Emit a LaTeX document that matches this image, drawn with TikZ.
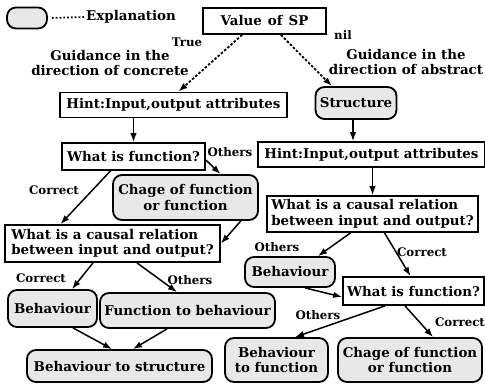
\documentclass[tikz,border=0pt]{standalone}
\usepackage{fontspec}
\setmainfont{DejaVu Serif}
\usetikzlibrary{arrows.meta}
\newcommand\mainfnt{\fontsize{13.4}{15.5}\selectfont\bfseries}
\newcommand\lblfnt{\fontsize{11.8}{13}\selectfont\bfseries}
\tikzset{
  sq/.style={draw, line width=1.8pt, inner sep=2pt, font=\mainfnt},
  rd/.style={draw, line width=1.8pt, rounded corners=9pt, fill=black!9, inner sep=2pt, font=\mainfnt},
  lbl/.style={font=\lblfnt, inner sep=0pt},
  txt/.style={font=\mainfnt, inner sep=0pt},
  arr/.style={line width=1.5pt, -{Latex[length=9pt,width=6.5pt]}},
  darr/.style={line width=1.8pt, dash pattern=on 2.5pt off 1.8pt, -{Latex[length=9pt,width=6.5pt]}},
}
\begin{document}
\begin{tikzpicture}[x=1pt,y=-1pt]
\useasboundingbox (0,0) rectangle (485,386);
% legend
\node[rd, minimum width=40pt, minimum height=21pt] (leg) at (27,18) {};
\node[txt, anchor=west] (expl) at (86,17) {Explanation};
% top
\node[sq, minimum width=123pt, minimum height=26pt] (sp) at (264.5,21) {Value\hspace{0.45em}of\hspace{0.45em}SP};
\node[lbl] (true) at (187,42) {True};
\node[lbl] (nil) at (343,35) {nil};
\node[txt, align=center] (gl) at (110,63) {Guidance in the\\direction of concrete};
\node[txt, align=center] (gr) at (406,62) {Guidance in the\\direction of abstract};
% left column
\node[sq, minimum width=227pt, minimum height=25pt] (hl) at (173.5,105) {Hint:Input,output attributes};
\node[sq, minimum width=143pt, minimum height=27pt] (wfl) at (133.5,156.5) {What is function?};
\node[rd, minimum width=145pt, minimum height=45pt, align=center] (cgl) at (185.5,197.5) {Chage of function\\or function};
\node[lbl] (o1) at (230,152) {Others};
\node[lbl] (c1) at (54,190) {Correct};
\node[sq, minimum width=215pt, minimum height=37pt, align=left] (cal) at (112.5,243.5) {What is a causal relation\\between input and output?};
\node[lbl] (c4) at (41,278) {Correct};
\node[lbl] (o4) at (190,280) {Others};
\node[rd, minimum width=89pt, minimum height=37pt] (bhl) at (52.5,308.5) {Behaviour};
\node[rd, minimum width=175pt, minimum height=35pt] (ftb) at (187.5,310.5) {Function to behaviour};
\node[rd, minimum width=185pt, minimum height=32pt] (bts) at (119.5,366) {Behaviour to structure};
% right column
\node[rd, minimum width=81pt, minimum height=32pt] (st) at (356,103) {Structure};
\node[sq, minimum width=227pt, minimum height=25pt] (hr) at (371.5,154.5) {Hint:Input,output attributes};
\node[sq, minimum width=211pt, minimum height=36pt, align=left] (car) at (372.5,214) {What is a causal relation\\between input and output?};
\node[lbl] (o2) at (277,247) {Others};
\node[lbl] (c2) at (422,252) {Correct};
\node[rd, minimum width=90pt, minimum height=30pt] (bhr) at (290,272) {Behaviour};
\node[sq, minimum width=141pt, minimum height=28pt] (wfr) at (413.5,291) {What is function?};
\node[lbl] (o3) at (318,315) {Others};
\node[lbl] (c3) at (460,322) {Correct};
\node[rd, minimum width=103pt, minimum height=44pt, align=center] (btf) at (276.5,360) {Behaviour\\to function};
\node[rd, minimum width=144pt, minimum height=44pt, align=center] (cgr) at (410,360) {Chage of function\\or function};
% connectors
\draw[dotted, line width=1.8pt, shorten <=4pt, shorten >=1pt] (leg.east) -- (expl.west);
\draw[darr] ([xshift=40pt]sp.south west) -- ([xshift=5pt]hl.north);
\draw[darr] ([xshift=-46pt]sp.south east) -- ([xshift=-24pt]st.north);
\draw[arr] (wfl.north |- hl.south) -- (wfl.north);
\draw[arr] ([yshift=-3.5pt]wfl.east) -- ([xshift=35pt]cgl.north);
\draw[arr] ([xshift=-23pt]wfl.south) -- ([xshift=-52pt]cal.north);
\draw[arr] ([xshift=-18pt]cgl.south east) -- (cal.east);
\draw[arr] ([xshift=-19.5pt]cal.south) -- ([xshift=19.5pt]bhl.north);
\draw[arr] ([xshift=24.5pt]cal.south) -- ([xshift=-10.5pt]ftb.north);
\draw[arr] ([xshift=20.5pt]bhl.south) -- ([xshift=-7.5pt]bts.north);
\draw[arr] ([xshift=-20.5pt]ftb.south) -- ([xshift=13.5pt]bts.north);
\draw[arr] ([xshift=-3pt]st.south) -- ([xshift=-3pt]st.south |- hr.north);
\draw[arr] (car.north |- hr.south) -- (car.north);
\draw[arr] ([xshift=-22pt]car.south) -- ([xshift=28pt]bhr.north);
\draw[arr] ([xshift=12pt]car.south) -- ([xshift=-3pt]wfr.north);
\draw[arr] ([xshift=15pt]bhr.south) -- ([yshift=-6pt]wfr.west);
\draw[arr] ([xshift=-28.5pt]wfr.south) -- ([xshift=18.5pt]btf.north);
\draw[arr] ([xshift=-8.5pt]wfr.south) -- ([xshift=23pt]cgr.north);
\end{tikzpicture}
\end{document}
